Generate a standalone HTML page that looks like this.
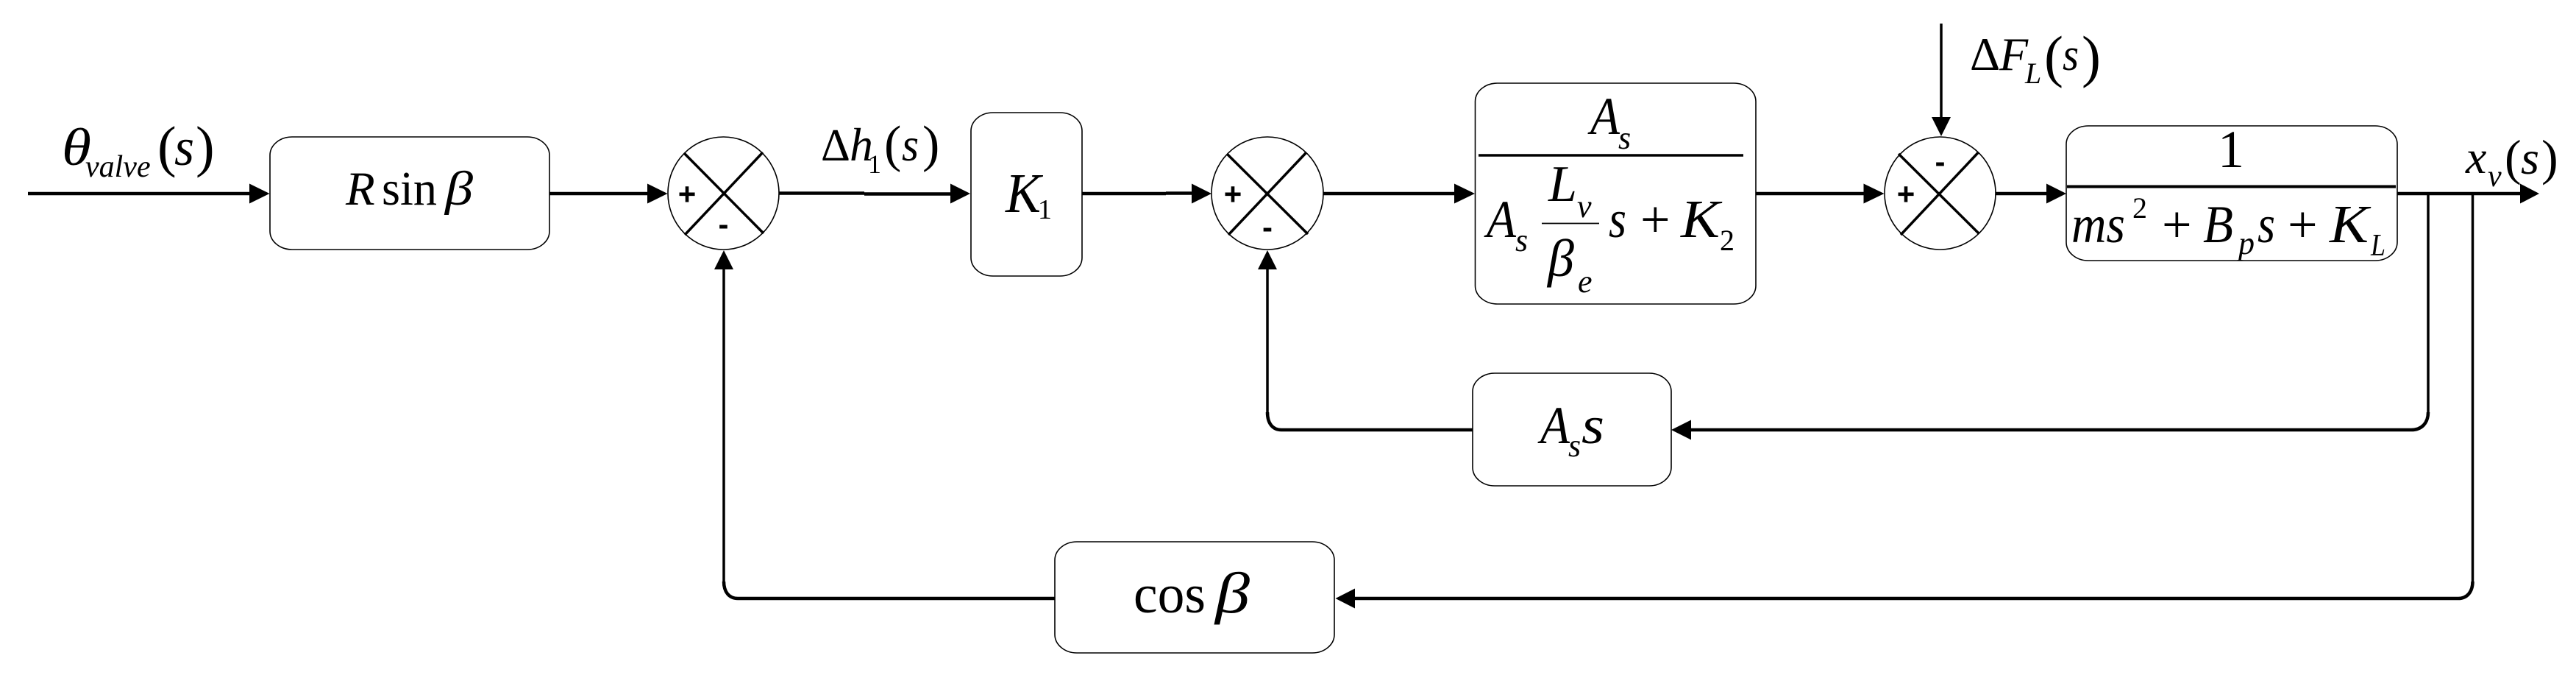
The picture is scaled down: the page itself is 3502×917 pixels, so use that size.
<!DOCTYPE html>
<html>
<head>
<meta charset="utf-8">
<style>
html,body{margin:0;padding:0;background:#fff;width:3502px;height:917px;overflow:hidden}
svg{display:block}
text{font-family:"Liberation Serif",serif;fill:#000}
.i{font-style:italic}
.b{font-family:"Liberation Sans",sans-serif;font-weight:bold;font-size:42px;text-anchor:middle}
.box{fill:#fff;stroke:#000;stroke-width:1.6}
.c{fill:#fff;stroke:#000;stroke-width:1.6}
.x{stroke:#000;stroke-width:3.5;fill:none}
.h{stroke:#000;stroke-width:4.5;fill:none}
.v{stroke:#000;stroke-width:3.5;fill:none}
</style>
</head>
<body>
<svg width="3502" height="917" viewBox="0 0 3502 917" xmlns="http://www.w3.org/2000/svg">
<rect width="3502" height="917" fill="#fff"/>

<!-- horizontal connectors -->
<path class="h" d="M38 263H345"/>
<path class="h" d="M747 263H885"/>
<path class="h" d="M1059 262.500H1175M1175 263.500H1298"/>
<path class="h" d="M1471 263H1585M1585 262.500H1625"/>
<path class="h" d="M1799 263H1982"/>
<path class="h" d="M2387 263H2538"/>
<path class="h" d="M2713 263H2787"/>
<path class="h" d="M3259 263H3430"/>

<!-- feedback paths -->
<path class="v" d="M3301 263V560"/>
<path class="h" d="M3301 560C3301 575 3292 584 3278 584H2295"/>
<path class="v" d="M3361.500 263V790"/>
<path class="h" d="M3361.500 790C3361.500 804 3354 813 3342 813H1838"/>
<path class="h" d="M2002 584H1742C1730 584 1723 575 1723 560"/>
<path class="v" d="M1723 560V360"/>
<path class="h" d="M1434 813H1003C991 813 984 804 984 790"/>
<path class="v" d="M984 790V360"/>
<path class="v" d="M2639 32V165"/>

<!-- arrowheads -->
<g fill="#000">
<polygon points="339,249.500 366.500,263 339,276.500"/>
<polygon points="880,249.500 907.500,263 880,276.500"/>
<polygon points="1292,249.500 1319,263 1292,276.500"/>
<polygon points="1620,249.500 1647,263 1620,276.500"/>
<polygon points="1977,249.500 2005,263 1977,276.500"/>
<polygon points="2533.500,249.500 2561.500,263 2533.500,276.500"/>
<polygon points="2782,249.500 2809,263 2782,276.500"/>
<polygon points="3426,249.500 3452,263 3426,276.500"/>
<polygon points="2272,584 2299,570.500 2299,597.500"/>
<polygon points="1815.500,813 1842,799.500 1842,826.500"/>
<polygon points="984,340 971,366 997,366"/>
<polygon points="1723,340 1710,366 1736,366"/>
<polygon points="2639,185 2626,159 2652,159"/>
</g>

<!-- boxes -->
<rect class="box" x="367" y="186" width="380" height="153" rx="30" ry="25"/>
<rect class="box" x="1320" y="153" width="151" height="222" rx="30" ry="25"/>
<rect class="box" x="2005.500" y="113" width="381.500" height="300" rx="30" ry="25"/>
<rect class="box" x="2809" y="171" width="450" height="183" rx="30" ry="25"/>
<rect class="box" x="2002" y="507" width="270" height="153" rx="30" ry="25"/>
<rect class="box" x="1434" y="736" width="380" height="151" rx="30" ry="25"/>

<!-- summing junctions -->
<ellipse class="c" cx="983.500" cy="262.500" rx="75.500" ry="76.500"/>
<path class="x" d="M930 208L1038 317M1037 207L931 319"/>
<ellipse class="c" cx="1723" cy="262.500" rx="76" ry="76.500"/>
<path class="x" d="M1668 209L1778 318M1776 207L1670 319"/>
<ellipse class="c" cx="2637.500" cy="262.500" rx="75.500" ry="76.500"/>
<path class="x" d="M2581 209L2690 317M2689.500 207L2584 319"/>

<!-- signs -->
<text class="b" x="934" y="278">+</text>
<text class="b" x="983.500" y="319">-</text>
<text class="b" x="1676" y="278">+</text>
<text class="b" x="1723" y="323">-</text>
<text class="b" x="2591" y="278">+</text>
<text class="b" x="2637.500" y="234">-</text>

<!-- fraction bars -->
<path stroke="#000" stroke-width="3.500" d="M2010 211H2370"/>
<path stroke="#000" stroke-width="1.800" d="M2096 303.500H2174"/>
<path stroke="#000" stroke-width="4" d="M2810 253.500H3257"/>

<!-- theta valve (s) -->
<text class="i" x="84" y="224" font-size="72" textLength="40" lengthAdjust="spacingAndGlyphs">θ</text>
<text class="i" x="116" y="240" font-size="42">valve</text>
<text x="214" y="225" font-size="77">(</text>
<text class="i" x="237" y="224" font-size="72" textLength="27" lengthAdjust="spacingAndGlyphs">s</text>
<text x="266" y="225" font-size="77">)</text>

<!-- R sin beta -->
<text class="i" x="470" y="278" font-size="65">R</text>
<text x="519" y="278" font-size="66" textLength="75" lengthAdjust="spacingAndGlyphs">sin</text>
<text class="i" x="605" y="278" font-size="66" textLength="38" lengthAdjust="spacingAndGlyphs">β</text>

<!-- delta h1(s) -->
<text x="1116" y="218" font-size="62">Δ</text>
<text class="i" x="1155" y="218" font-size="64">h</text>
<text x="1180" y="235" font-size="36">1</text>
<text x="1202" y="219" font-size="70">(</text>
<text class="i" x="1226" y="218" font-size="64" textLength="23" lengthAdjust="spacingAndGlyphs">s</text>
<text x="1254" y="219" font-size="70">)</text>

<!-- K1 -->
<text class="i" x="1367" y="288" font-size="76" textLength="48" lengthAdjust="spacingAndGlyphs">K</text>
<text x="1411" y="297" font-size="38">1</text>

<!-- As / (As Lv/be s + K2) -->
<text class="i" x="2162" y="182" font-size="72" textLength="40" lengthAdjust="spacingAndGlyphs">A</text>
<text class="i" x="2200" y="202" font-size="44">s</text>
<text class="i" x="2021" y="322" font-size="72" textLength="40" lengthAdjust="spacingAndGlyphs">A</text>
<text class="i" x="2060" y="341" font-size="44">s</text>
<text class="i" x="2105" y="273" font-size="70">L</text>
<text class="i" x="2144" y="295" font-size="44">v</text>
<text class="i" x="2104" y="375" font-size="72">β</text>
<text class="i" x="2145" y="397" font-size="44">e</text>
<text class="i" x="2187" y="322" font-size="72" textLength="24" lengthAdjust="spacingAndGlyphs">s</text>
<text x="2230" y="322" font-size="72">+</text>
<text class="i" x="2285" y="322" font-size="73" textLength="53" lengthAdjust="spacingAndGlyphs">K</text>
<text x="2338" y="340" font-size="40">2</text>

<!-- delta FL(s) -->
<text x="2678" y="95" font-size="64">Δ</text>
<text class="i" x="2718" y="95" font-size="64">F</text>
<text class="i" x="2753" y="113" font-size="40">L</text>
<text x="2779" y="103" font-size="78">(</text>
<text class="i" x="2804" y="95" font-size="62" textLength="22" lengthAdjust="spacingAndGlyphs">s</text>
<text x="2830" y="103" font-size="78">)</text>

<!-- 1 / (ms^2 + Bp s + KL) -->
<text x="3015" y="227" font-size="72">1</text>
<text class="i" x="2816" y="329" font-size="72" textLength="73" lengthAdjust="spacingAndGlyphs">ms</text>
<text x="2899" y="296" font-size="40">2</text>
<text x="2939" y="329" font-size="72">+</text>
<text class="i" x="2995" y="329" font-size="72" textLength="41" lengthAdjust="spacingAndGlyphs">B</text>
<text class="i" x="3043" y="345" font-size="44">p</text>
<text class="i" x="3069" y="329" font-size="72" textLength="24" lengthAdjust="spacingAndGlyphs">s</text>
<text x="3110" y="329" font-size="72">+</text>
<text class="i" x="3167" y="329" font-size="73" textLength="53" lengthAdjust="spacingAndGlyphs">K</text>
<text class="i" x="3223" y="347" font-size="42" textLength="20" lengthAdjust="spacingAndGlyphs">L</text>

<!-- xv(s) -->
<text class="i" x="3352" y="235" font-size="64">x</text>
<text class="i" x="3382" y="253" font-size="42">v</text>
<text x="3405" y="237" font-size="68">(</text>
<text class="i" x="3427" y="236" font-size="64" textLength="25" lengthAdjust="spacingAndGlyphs">s</text>
<text x="3455" y="237" font-size="68">)</text>

<!-- As s -->
<text class="i" x="2094" y="602" font-size="72" textLength="40" lengthAdjust="spacingAndGlyphs">A</text>
<text class="i" x="2132" y="620" font-size="44">s</text>
<text class="i" x="2150" y="602" font-size="72" textLength="31" lengthAdjust="spacingAndGlyphs">s</text>

<!-- cos beta -->
<text x="1541" y="832" font-size="74" textLength="98" lengthAdjust="spacingAndGlyphs">cos</text>
<text class="i" x="1652" y="832" font-size="78" textLength="47" lengthAdjust="spacingAndGlyphs">β</text>
</svg>
</body>
</html>
